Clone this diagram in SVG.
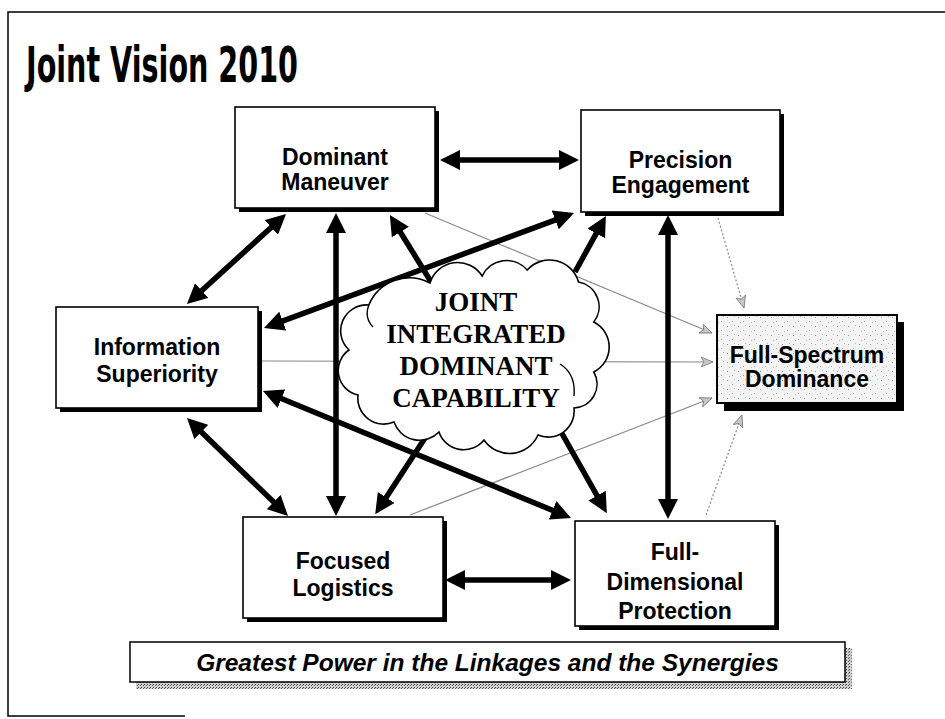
<svg xmlns="http://www.w3.org/2000/svg" width="945" height="719" viewBox="0 0 945 719">
<defs>
<style>
.box{fill:#fff;stroke:#000;stroke-width:1.6}
.shadow{fill:#000}
.lbl{font-family:"Liberation Sans",Arial,sans-serif;font-weight:bold;font-size:23px;text-anchor:middle;fill:#000}
.ctxt{font-family:"Liberation Serif","Times New Roman",serif;font-weight:bold;font-size:27px;text-anchor:middle;fill:#000}
.thick{stroke:#000;stroke-width:5.5;fill:none;marker-end:url(#ah)}
.dbl{marker-start:url(#ah)}
.thin{stroke:#8a8a8a;stroke-width:1.2;fill:none;marker-end:url(#sh)}
.dot{stroke-dasharray:2 2}
</style>
<marker id="ah" viewBox="0 0 20 20" refX="14" refY="10" markerWidth="20" markerHeight="20" markerUnits="userSpaceOnUse" orient="auto-start-reverse"><path d="M0,0 L20,10 L0,20 z" fill="#000"/></marker>
<marker id="sh" viewBox="0 0 12 12" refX="12" refY="6" markerWidth="12" markerHeight="12" markerUnits="userSpaceOnUse" orient="auto"><path d="M0,1 L12,6 L0,11 L3,6 z" fill="#c8c8c8" stroke="#777" stroke-width="0.8"/></marker>
<pattern id="speck" width="11" height="9" patternUnits="userSpaceOnUse"><rect width="11" height="9" fill="#f3f3f3"/><rect x="1" y="2" width="1" height="1" fill="#999"/><rect x="6" y="6" width="1" height="1" fill="#aaa"/><rect x="8" y="1" width="1" height="1" fill="#bbb"/><rect x="3" y="7" width="1" height="1" fill="#bbb"/></pattern>
<pattern id="hatch" width="3" height="3" patternUnits="userSpaceOnUse"><rect width="3" height="3" fill="#cfcfcf"/><rect width="1" height="1" fill="#444"/><rect x="2" y="1" width="1" height="1" fill="#666"/></pattern>
</defs>
<rect width="945" height="719" fill="#fff"/>
<path d="M945,12 H8 V716 H185" fill="none" stroke="#000" stroke-width="1.5"/>
<text x="26" y="82" font-family="'DejaVu Sans',Verdana,sans-serif" font-weight="bold" font-size="50" textLength="272" lengthAdjust="spacingAndGlyphs">Joint Vision 2010</text>

<g id="connectors">
<path class="thin" d="M425,213 L712,333"/>
<path class="thin dot" d="M718,218 L744,308"/>
<path class="thin" d="M262,361 L713,362"/>
<path class="thin" d="M410,515 L712,398"/>
<path class="thin dot" d="M706,515 L742,415"/>
<path class="thick dbl" d="M446,160 L573,160"/>
<path class="thick dbl" d="M281.6,218 L191.4,300"/>
<path class="thick dbl" d="M336,219 L336,510"/>
<path class="thick" d="M433,285 L393,220.2"/>
<path class="thick dbl" d="M269.6,325.9 L568.4,215.1"/>
<path class="thick" d="M575,272 L603,221.2"/>
<path class="thick dbl" d="M668,221 L668,513"/>
<path class="thick dbl" d="M191.3,422.2 L283.7,511.8"/>
<path class="thick dbl" d="M268.5,393.3 L565.5,515.7"/>
<path class="thick" d="M425,438 L378.5,509.2"/>
<path class="thick" d="M560,430 L603.9,507.9"/>
<path class="thick dbl" d="M451,580 L565,580"/>
</g>

<g id="cloud">
<path d="M368.8,305 A44,44 0 0 1 430,283 A29,29 0 0 1 482.2,276 A27,27 0 0 1 527.2,270 A30,30 0 0 1 578.5,282 A25,25 0 0 1 593.8,322 A28,28 0 0 1 593.8,372 A24,24 0 0 1 574,408 A26,26 0 0 1 538,435 A31,31 0 0 1 484,440 A26,26 0 0 1 439,432 A27,27 0 0 1 394,422 A26,26 0 0 1 358,395 A25,25 0 0 1 349,350 A26,26 0 0 1 368.8,305 Z" fill="#fff" stroke="#000" stroke-width="1.6"/>
<path d="M560,364 Q576,374 574,396 M368.8,305 Q364,318 373,327" fill="none" stroke="#000" stroke-width="1.4"/>
<text class="ctxt" x="476" y="311">JOINT</text>
<text class="ctxt" x="476" y="343">INTEGRATED</text>
<text class="ctxt" x="476" y="375">DOMINANT</text>
<text class="ctxt" x="476" y="407">CAPABILITY</text>
</g>

<g id="dominant-maneuver">
<rect class="shadow" x="239" y="111" width="200" height="101"/>
<rect class="box" x="235" y="107" width="200" height="101"/>
<text class="lbl" x="335" y="165">Dominant</text>
<text class="lbl" x="335" y="190">Maneuver</text>
</g>

<g id="precision-engagement">
<rect class="shadow" x="585" y="114" width="199" height="102"/>
<rect class="box" x="581" y="110" width="199" height="102"/>
<text class="lbl" x="680.5" y="168">Precision</text>
<text class="lbl" x="680.5" y="193">Engagement</text>
</g>

<g id="information-superiority">
<rect class="shadow" x="60" y="311" width="202" height="101"/>
<rect class="box" x="56" y="307" width="202" height="101"/>
<text class="lbl" x="157" y="355">Information</text>
<text class="lbl" x="157" y="382">Superiority</text>
</g>

<g id="full-spectrum-dominance">
<rect class="shadow" x="724" y="322" width="180" height="89"/>
<rect x="717" y="315" width="180" height="88" fill="url(#speck)" stroke="#000" stroke-width="2"/>
<text class="lbl" x="807" y="363" font-size="24">Full-Spectrum</text>
<text class="lbl" x="807" y="387" font-size="24">Dominance</text>
</g>

<g id="focused-logistics">
<rect class="shadow" x="247" y="521" width="200" height="101"/>
<rect class="box" x="243" y="517" width="200" height="101"/>
<text class="lbl" x="343" y="569">Focused</text>
<text class="lbl" x="343" y="596">Logistics</text>
</g>

<g id="full-dimensional-protection">
<rect class="shadow" x="579" y="525" width="200" height="105"/>
<rect class="box" x="575" y="521" width="200" height="105"/>
<text class="lbl" x="675" y="560">Full-</text>
<text class="lbl" x="675" y="590">Dimensional</text>
<text class="lbl" x="675" y="619">Protection</text>
</g>

<g id="banner">
<rect x="136" y="648" width="716" height="41" fill="url(#hatch)"/>
<rect x="130" y="642" width="715" height="40" fill="#fff" stroke="#000" stroke-width="1.5"/>
<text x="487.5" y="671" font-family="'Liberation Sans',Arial,sans-serif" font-weight="bold" font-style="italic" font-size="24.5" text-anchor="middle">Greatest Power in the Linkages and the Synergies</text>
</g>
</svg>
